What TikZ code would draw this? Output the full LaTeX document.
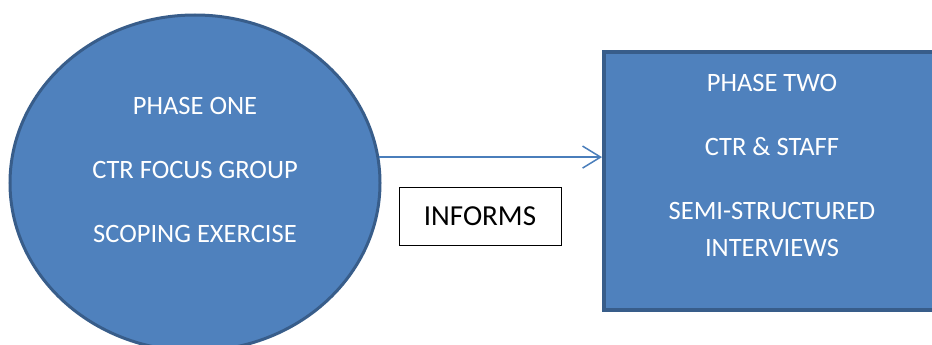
\documentclass[tikz,border=0pt]{standalone}
\usepackage{fontspec}
\setmainfont{Carlito}
\usetikzlibrary{shapes.geometric,arrows.meta}
\definecolor{phasefill}{RGB}{79,129,189}
\definecolor{phaseline}{RGB}{56,93,138}
\definecolor{arrowblue}{RGB}{74,126,187}
\tikzset{phase/.style={draw=phaseline, fill=phasefill, inner sep=0pt}}
\tikzset{phasetext/.style={white, align=center, font=\fontsize{26.5}{37}\selectfont}}
\tikzset{tagbox/.style={draw=black, line width=1pt, minimum width=162pt, minimum height=58pt, font=\fontsize{29}{34}\selectfont}}

\begin{document}
\begin{tikzpicture}[x=1pt, y=-1pt]
\useasboundingbox (0,0) rectangle (932,345);
\node [phase, ellipse, line width=3pt, minimum width=370pt, minimum height=336pt] (one) at (195,183) {};
\node [phasetext] (onetext) at (195,170) {PHASE ONE\\[27pt]CTR FOCUS GROUP\\[27pt]SCOPING EXERCISE};
\node [phase, rectangle, line width=4pt, minimum width=340pt, minimum height=258pt, anchor=north west] (two) at (602,50) {};
\node [phasetext] (twotext) at (772,165) {PHASE TWO\\[27pt]CTR \& STAFF\\[27pt]SEMI-STRUCTURED\\INTERVIEWS};
\node [tagbox] (informs) at (480,216) {INFORMS};
\draw [arrowblue, line width=1.5pt, -{Straight Barb[length=18pt, width=22pt]}] (one.8) -- (one.8 -| two.west);
\end{tikzpicture}
\end{document}
